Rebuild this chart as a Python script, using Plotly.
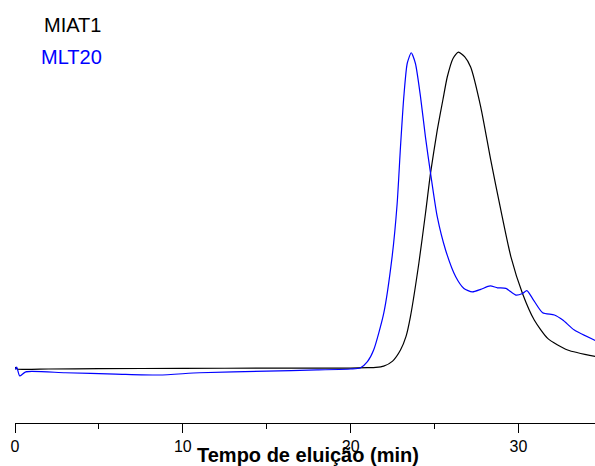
import plotly.graph_objects as go

# MIAT1 (black) elution profile
miat1_t = [0.0, 0.12, 2, 5, 10, 15, 20, 21, 21.5, 21.97, 22.5, 22.97, 23.3, 23.56, 24.06, 24.46,
           24.76, 25.16, 25.5, 25.76, 26.1, 26.42, 26.8, 27.15, 27.75, 28.35, 28.95, 29.55,
           30.24, 30.94, 31.74, 32.93, 34.63]
miat1_y = [0.003, -0.003, -0.003, -0.002, -0.001, -0.0005, 0.0, 0.001, 0.002, 0.006, 0.022, 0.057,
           0.10, 0.162, 0.33, 0.49, 0.617, 0.753, 0.85, 0.922, 0.98, 1.0, 0.985, 0.953, 0.827,
           0.658, 0.5, 0.352, 0.236, 0.152, 0.094, 0.057, 0.036]

# MLT20 (blue) elution profile
mlt20_t = [0.0, 0.1, 0.28, 0.64, 3, 6, 8.6, 11, 15, 18, 20, 20.57, 21.0, 21.37, 21.97, 22.47,
           22.77, 22.97, 23.17, 23.37, 23.61, 23.86, 24.16, 24.46, 24.76, 25.16, 25.66, 26.26,
           26.75, 27.25, 27.75, 28.31, 28.75, 29.25, 29.84, 30.24, 30.5, 30.84, 31.44, 32.14,
           32.64, 33.33, 34.63]
mlt20_y = [-0.005, 0.003, -0.025, -0.012, -0.015, -0.019, -0.022, -0.015, -0.01, -0.006, -0.003,
           0.0, 0.02, 0.057, 0.173, 0.352, 0.52, 0.70, 0.86, 0.964, 0.998, 0.964, 0.86, 0.73,
           0.617, 0.479, 0.373, 0.289, 0.252, 0.241, 0.249, 0.26, 0.254, 0.252, 0.231, 0.236,
           0.245, 0.22, 0.175, 0.168, 0.152, 0.12, 0.086]

x_ticks = [0, 10, 20, 30]
x_title = "Tempo de eluição (min)"
series_names = ["MIAT1", "MLT20"]

FONT = "Arial, Liberation Sans, sans-serif"
L, B, H = 15, 43, 466 - 43
W = 595 - L

fig = go.Figure()
fig.add_trace(go.Scatter(x=miat1_t, y=miat1_y, mode="lines", name=series_names[0],
                         line=dict(color="black", width=1.2, shape="spline", smoothing=0.6)))
fig.add_trace(go.Scatter(x=mlt20_t, y=mlt20_y, mode="lines", name=series_names[1],
                         line=dict(color="#0000ff", width=1.2, shape="spline", smoothing=0.6)))

fig.update_layout(
    width=595, height=466,
    margin=dict(l=L, r=0, t=0, b=B),
    paper_bgcolor="white", plot_bgcolor="white",
    showlegend=False,
    font=dict(family=FONT, color="black"),
    xaxis=dict(range=[0, 34.56], tickvals=x_ticks, ticks="outside", ticklen=9, tickwidth=1.3,
               tickcolor="black", showline=True, linecolor="black", linewidth=1.3,
               showgrid=False, zeroline=False, tickfont=dict(size=16, family=FONT),
               minor=dict(dtick=5, ticks="outside", ticklen=5, tickwidth=1.3, tickcolor="black",
                          showgrid=False),
               ticklabelstandoff=0),
    yaxis=dict(range=[-0.174, 1.165], visible=False),
)

fig.add_annotation(text=x_title, xref="paper", yref="paper", x=(308 - L) / W, y=(H - 455) / H,
                   xanchor="center", yanchor="middle", showarrow=False,
                   font=dict(size=20, family=FONT, color="black", weight="bold"))
fig.add_annotation(text=series_names[0], xref="paper", yref="paper", x=(42 - L) / W,
                   y=(H - 24.5) / H, xanchor="left", yanchor="middle", showarrow=False,
                   font=dict(size=20, family=FONT, color="black"))
fig.add_annotation(text=series_names[1], xref="paper", yref="paper", x=(39 - L) / W,
                   y=(H - 57) / H, xanchor="left", yanchor="middle", showarrow=False,
                   font=dict(size=20, family=FONT, color="#0000ff"))

fig.write_html("out.html")
